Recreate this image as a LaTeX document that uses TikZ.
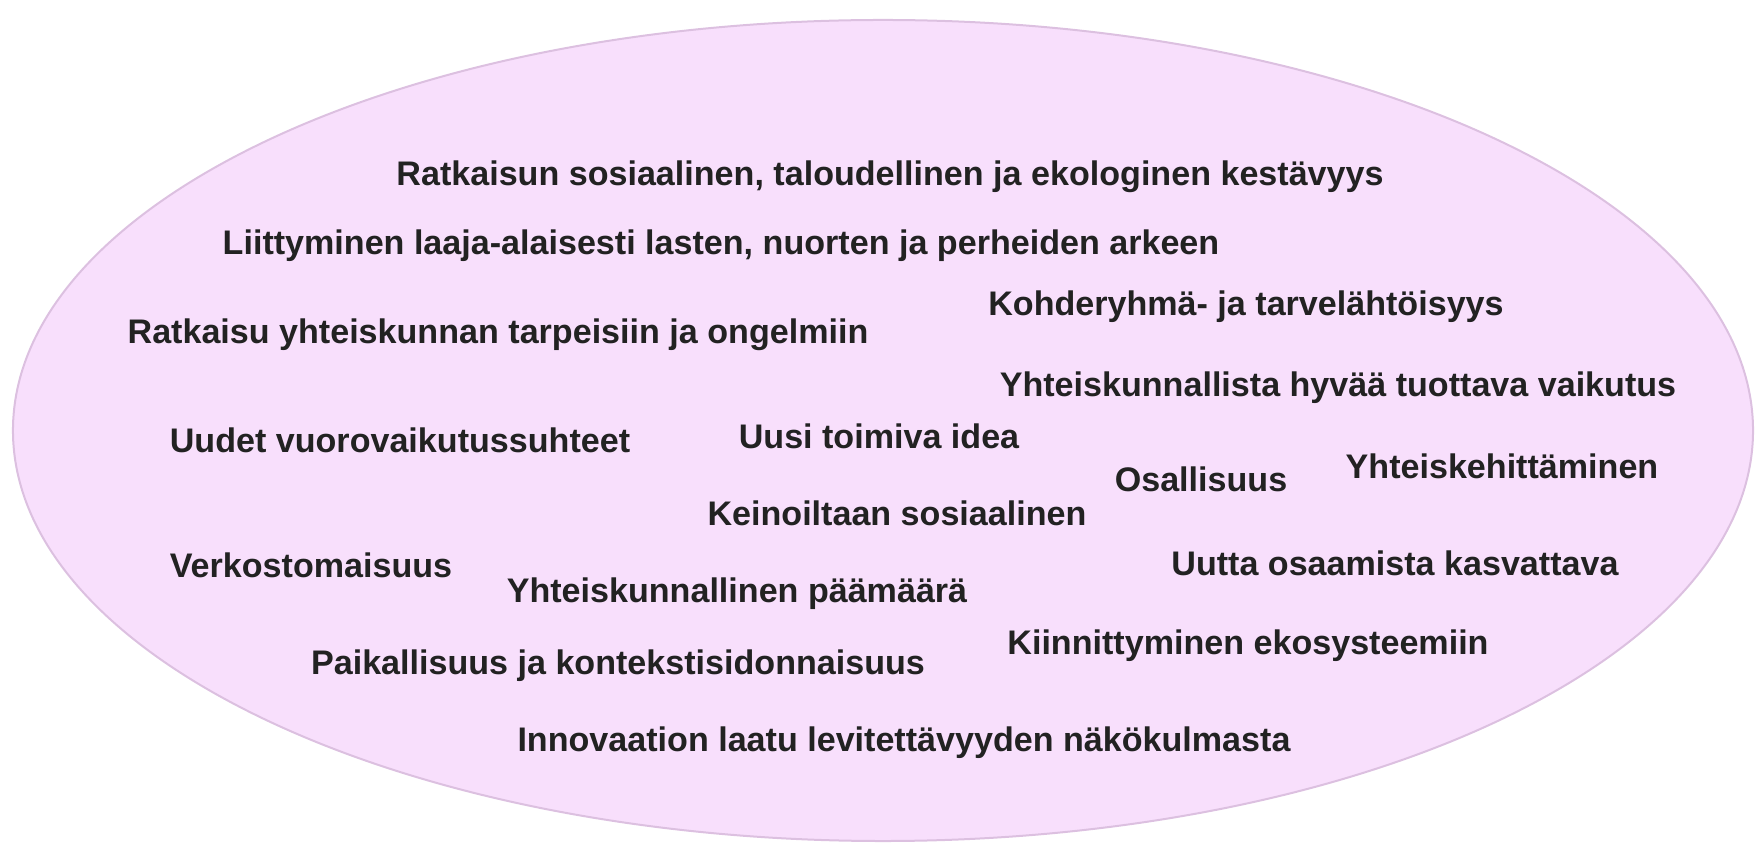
\documentclass[tikz,border=0pt]{standalone}
\usepackage{fontspec}
\setmainfont{Liberation Sans}
\usetikzlibrary{shapes.geometric}
\definecolor{ovalfill}{HTML}{F8DFFC}
\definecolor{ovalline}{HTML}{DCC0E0}
\definecolor{textdark}{HTML}{222222}

\begin{document}
\begin{tikzpicture}[x=0.1mm, y=-0.1mm,
    lbl/.style={anchor=base, inner sep=0pt, text=textdark, font=\fontsize{9.7pt}{11pt}\selectfont\bfseries}]
    \useasboundingbox (0,0) rectangle (1764,860);
    \node[shape=ellipse, draw=ovalline, fill=ovalfill, line width=0.2mm, minimum width=174cm*0.1, minimum height=82.1cm*0.1, inner sep=0pt] (oval) at (883,430.5) {};
    \node[lbl] (kestavyys) at (890,185.5) {Ratkaisun sosiaalinen, taloudellinen ja ekologinen kestävyys};
    \node[lbl] (arki) at (721,254.5) {Liittyminen laaja-alaisesti lasten, nuorten ja perheiden arkeen};
    \node[lbl] (kohderyhma) at (1246,315.5) {Kohderyhmä- ja tarvelähtöisyys};
    \node[lbl] (tarpeet) at (498,343.5) {Ratkaisu yhteiskunnan tarpeisiin ja ongelmiin};
    \node[lbl] (vaikutus) at (1338,396.5) {Yhteiskunnallista hyvää tuottava vaikutus};
    \node[lbl] (suhteet) at (400,452.5) {Uudet vuorovaikutussuhteet};
    \node[lbl] (idea) at (879,448.5) {Uusi toimiva idea};
    \node[lbl] (osallisuus) at (1201,491.5) {Osallisuus};
    \node[lbl] (yhteiskehitys) at (1502,478.5) {Yhteiskehittäminen};
    \node[lbl] (keinot) at (897,525.5) {Keinoiltaan sosiaalinen};
    \node[lbl] (verkosto) at (311,577.5) {Verkostomaisuus};
    \node[lbl] (osaaminen) at (1395,575.5) {Uutta osaamista kasvattava};
    \node[lbl] (paamaara) at (737,602.5) {Yhteiskunnallinen päämäärä};
    \node[lbl] (ekosysteemi) at (1248,654.5) {Kiinnittyminen ekosysteemiin};
    \node[lbl] (paikallisuus) at (618,674.5) {Paikallisuus ja kontekstisidonnaisuus};
    \node[lbl] (levitys) at (904,751.5) {Innovaation laatu levitettävyyden näkökulmasta};
\end{tikzpicture}
\end{document}
